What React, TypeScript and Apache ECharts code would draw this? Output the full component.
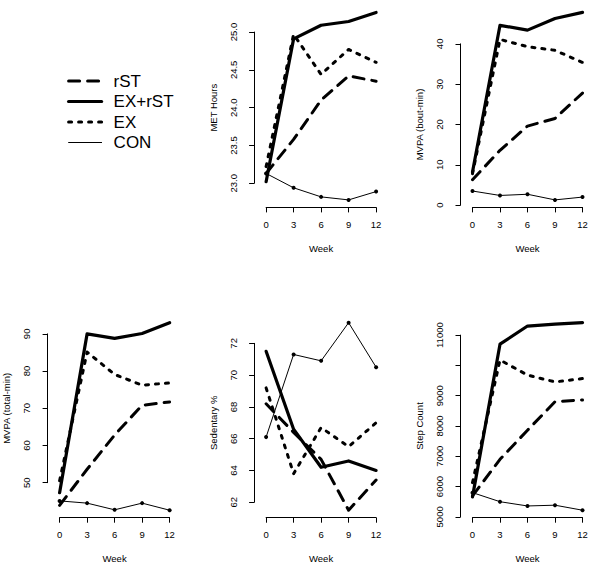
import React, { useEffect, useRef } from "react";
import * as echarts from "echarts";

// ---------- data ----------
const weeks = [0, 3, 6, 9, 12];
const groupNames = ["rST", "EX+rST", "EX", "CON"];

const metRST = [23.13, 23.58, 24.1, 24.42, 24.35];
const metEXrST = [23.02, 24.91, 25.09, 25.14, 25.26];
const metEX = [23.22, 24.97, 24.44, 24.77, 24.6];
const metCON = [23.13, 22.94, 22.82, 22.78, 22.89];

const boutRST = [6.3, 13.6, 19.6, 21.5, 27.8];
const boutEXrST = [8.2, 44.6, 43.4, 46.3, 47.8];
const boutEX = [7.8, 41.1, 39.3, 38.4, 35.4];
const boutCON = [3.5, 2.4, 2.7, 1.3, 2.0];

const totalRST = [43.9, 53.6, 62.8, 70.8, 71.7];
const totalEXrST = [47.3, 90.0, 88.8, 90.1, 93.0];
const totalEX = [50.5, 85.1, 79.1, 76.2, 76.8];
const totalCON = [45.1, 44.5, 42.7, 44.5, 42.6];

const sedRST = [68.2, 66.4, 64.7, 61.5, 63.4];
const sedEXrST = [71.5, 66.6, 64.2, 64.6, 64.0];
const sedEX = [69.2, 63.8, 66.7, 65.5, 67.0];
const sedCON = [66.1, 71.3, 70.9, 73.3, 70.5];

const stepRST = [5690, 6900, 7860, 8800, 8860];
const stepEXrST = [5660, 10700, 11300, 11360, 11410];
const stepEX = [6130, 10180, 9680, 9455, 9565];
const stepCON = [5800, 5500, 5360, 5385, 5220];

const weekTicks = [0, 3, 6, 9, 12];
const metTicks = [23, 23.5, 24, 24.5, 25];
const boutTicks = [0, 10, 20, 30, 40];
const totalTicks = [50, 60, 70, 80, 90];
const sedTicks = [62, 64, 66, 68, 70, 72];
const stepTicks = [5000, 6000, 7000, 8000, 9000, 10000, 11000];
const stepTickLabels = [5000, 6000, 7000, 8000, 9000, 11000];

// ---------- layout ----------
const FONT = "'Liberation Sans', Arial, Helvetica, sans-serif";
const COL_X0 = [59.6, 266.1, 472.5];
const X_SPAN = 110;
const ROW_BOTTOM = [207.4, 517.7];
const PLOT_H = 202.5;
const Y_AXIS_GAP = 12;

type PanelDef = {
  title: string;
  col: number;
  row: number;
  values: number[][];
  ticks: number[];
  labelValues?: number[];
  digits: number;
};

const panels: PanelDef[] = [
  { title: "MET Hours", col: 1, row: 0, values: [metRST, metEXrST, metEX, metCON], ticks: metTicks, digits: 1 },
  { title: "MVPA (bout-min)", col: 2, row: 0, values: [boutRST, boutEXrST, boutEX, boutCON], ticks: boutTicks, digits: 0 },
  { title: "MVPA (total-min)", col: 0, row: 1, values: [totalRST, totalEXrST, totalEX, totalCON], ticks: totalTicks, digits: 0 },
  { title: "Sedentary %", col: 1, row: 1, values: [sedRST, sedEXrST, sedEX, sedCON], ticks: sedTicks, digits: 0 },
  { title: "Step Count", col: 2, row: 1, values: [stepRST, stepEXrST, stepEX, stepCON], ticks: stepTicks, labelValues: stepTickLabels, digits: 0 },
];

const seriesStyles = [
  { lineStyle: { color: "#000", width: 3, type: [11, 8], cap: "round", join: "round" }, symbol: "none", symbolSize: 0 },
  { lineStyle: { color: "#000", width: 3.2, type: "solid", cap: "round", join: "round" }, symbol: "none", symbolSize: 0 },
  { lineStyle: { color: "#000", width: 3, type: [3, 7], cap: "round", join: "round" }, symbol: "none", symbolSize: 0 },
  { lineStyle: { color: "#000", width: 1, type: "solid", cap: "round", join: "round" }, symbol: "circle", symbolSize: 4 },
];

function buildOption() {
  const grid: any[] = [];
  const xAxis: any[] = [];
  const yAxis: any[] = [];
  const series: any[] = [];

  panels.forEach((p, gi) => {
    const all = p.values.flat();
    const dMin = Math.min(...all);
    const dMax = Math.max(...all);
    const pad = (dMax - dMin) * 0.04;
    const lo = dMin - pad;
    const hi = dMax + pad;
    const tMin = p.ticks[0];
    const tMax = p.ticks[p.ticks.length - 1];
    const pxPer = PLOT_H / (hi - lo);
    const bottom = ROW_BOTTOM[p.row];
    const gTop = bottom - (tMax - lo) * pxPer;
    const gBottom = bottom - (tMin - lo) * pxPer;

    grid.push({
      left: COL_X0[p.col],
      top: gTop,
      width: X_SPAN,
      height: gBottom - gTop,
      containLabel: false,
    });

    const textCommon = { color: "#000", fontSize: 9.5, fontFamily: FONT, fontWeight: "normal" };

    xAxis.push({
      gridIndex: gi,
      type: "value",
      min: weekTicks[0],
      max: weekTicks[weekTicks.length - 1],
      interval: weekTicks[1] - weekTicks[0],
      offset: (tMin - lo) * pxPer,
      name: "Week",
      nameLocation: "middle",
      nameGap: 36,
      nameMoveOverlap: false,
      nameTextStyle: textCommon,
      axisLine: { show: true, onZero: false, lineStyle: { color: "#000", width: 1 } },
      axisTick: { show: true, length: 5, lineStyle: { color: "#000", width: 1 } },
      axisLabel: { ...textCommon, margin: 12 },
      splitLine: { show: false },
    });

    const labelFmt = (v: number) => v.toFixed(p.digits);
    const interval = p.ticks[1] - p.ticks[0];
    yAxis.push({
      gridIndex: gi,
      type: "value",
      min: tMin,
      max: tMax,
      interval,
      offset: Y_AXIS_GAP,
      name: p.title,
      nameLocation: "middle",
      nameGap: 36,
      nameMoveOverlap: false,
      nameTextStyle: textCommon,
      axisLine: { show: true, onZero: false, lineStyle: { color: "#000", width: 1 } },
      axisTick: { show: true, length: 5, lineStyle: { color: "#000", width: 1 } },
      axisLabel: {
        ...textCommon,
        rotate: 90,
        margin: 16,
        formatter: labelFmt,
        ...(p.labelValues ? { customValues: p.labelValues } : {}),
      },
      splitLine: { show: false },
    });

    p.values.forEach((vals, si) => {
      const st = seriesStyles[si];
      series.push({
        type: "line",
        name: groupNames[si],
        xAxisIndex: gi,
        yAxisIndex: gi,
        data: weeks.map((w, i) => [w, vals[i]]),
        clip: false,
        silent: true,
        symbol: st.symbol,
        symbolSize: st.symbolSize,
        showSymbol: st.symbol !== "none",
        itemStyle: { color: "#000" },
        lineStyle: st.lineStyle,
        z: 10 - si,
      });
    });
  });

  return {
    animation: false,
    backgroundColor: "#fff",
    grid,
    xAxis,
    yAxis,
    series,
    legend: {
      show: true,
      orient: "vertical",
      left: 62,
      top: 67.5,
      itemWidth: 33,
      itemHeight: 14,
      itemGap: 3.5,
      selectedMode: false,
      data: groupNames,
      itemStyle: { opacity: 0 },
      lineStyle: { width: "inherit" },
      textStyle: { color: "#000", fontSize: 17, fontFamily: FONT, padding: [0, 0, 0, 7] },
    },
  };
}

export default function App() {
  const ref = useRef<HTMLDivElement>(null);
  useEffect(() => {
    const chart = echarts.init(ref.current as HTMLDivElement, null, { renderer: "svg" });
    chart.setOption(buildOption() as any);
    return () => chart.dispose();
  }, []);
  return (
    <div
      ref={ref}
      style={{ position: "absolute", left: 0, top: 0, width: 600, height: 569, background: "#fff" }}
    />
  );
}
